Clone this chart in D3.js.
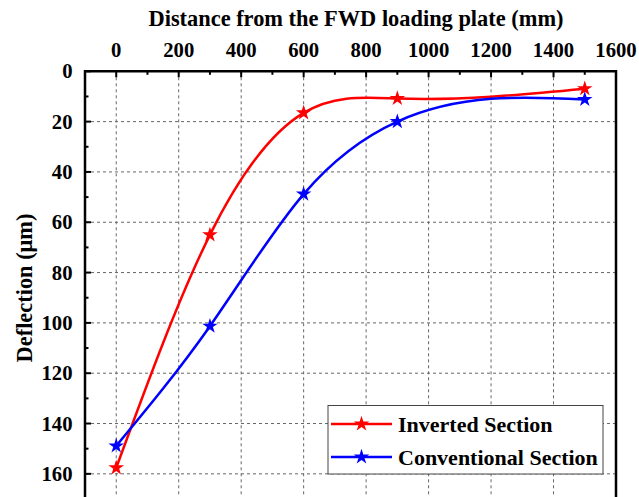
<!DOCTYPE html>
<html>
<head>
<meta charset="utf-8">
<script src="https://cdn.jsdelivr.net/npm/d3@7"></script>
<style>
  html, body { margin: 0; padding: 0; background: #fff; }
  svg { display: block; }
  text { font-family: "Liberation Serif", "Times New Roman", serif; font-weight: bold; fill: #000; }
</style>
</head>
<body>
<svg id="chart" width="639" height="497"></svg>
<script>
// Distance from the loading plate (mm) for each geophone
const distances = [0, 300, 600, 900, 1500];
// Deflections (µm) for each section
const invertedSection = [157.6, 65, 16.5, 10.8, 6.9];
const conventionalSection = [148.9, 101.3, 48.8, 20, 11.2];
const seriesNames = ["Inverted Section", "Conventional Section"];
const seriesColors = ["#ff0000", "#0000ff"];
const xTicks = [0, 200, 400, 600, 800, 1000, 1200, 1400, 1600];
const yTicks = [0, 20, 40, 60, 80, 100, 120, 140, 160];

// Natural cubic spline with y as a function of x, emitted as exact Bézier segments
function SplineX(context) { this._context = context; }
SplineX.prototype = {
  areaStart() { this._line = 0; },
  areaEnd() { this._line = NaN; },
  lineStart() { this._xs = []; this._ys = []; },
  point(px, py) { this._xs.push(+px); this._ys.push(+py); },
  lineEnd() {
    const xs = this._xs, ys = this._ys, n = xs.length, ctx = this._context;
    if (!n) return;
    ctx.moveTo(xs[0], ys[0]);
    if (n === 1) return;
    const h = [], M = new Array(n).fill(0);
    for (let i = 0; i < n - 1; i++) h.push(xs[i + 1] - xs[i]);
    if (n > 2) {
      // tridiagonal system for the second derivatives (natural ends)
      const a = [], b = [], c = [], r = [];
      for (let i = 1; i < n - 1; i++) {
        a.push(h[i - 1]); b.push(2 * (h[i - 1] + h[i])); c.push(h[i]);
        r.push(6 * ((ys[i + 1] - ys[i]) / h[i] - (ys[i] - ys[i - 1]) / h[i - 1]));
      }
      const m = b.length;
      for (let i = 1; i < m; i++) {
        const w = a[i] / b[i - 1];
        b[i] -= w * c[i - 1]; r[i] -= w * r[i - 1];
      }
      const sol = new Array(m);
      sol[m - 1] = r[m - 1] / b[m - 1];
      for (let i = m - 2; i >= 0; i--) sol[i] = (r[i] - c[i] * sol[i + 1]) / b[i];
      for (let i = 0; i < m; i++) M[i + 1] = sol[i];
    }
    for (let i = 0; i < n - 1; i++) {
      const hi = h[i], dy = (ys[i + 1] - ys[i]) / hi;
      const s0 = dy - hi * (2 * M[i] + M[i + 1]) / 6;
      const s1 = dy + hi * (M[i] + 2 * M[i + 1]) / 6;
      ctx.bezierCurveTo(xs[i] + hi / 3, ys[i] + s0 * hi / 3,
                        xs[i + 1] - hi / 3, ys[i + 1] - s1 * hi / 3,
                        xs[i + 1], ys[i + 1]);
    }
  }
};
const curveSplineX = ctx => new SplineX(ctx);

const svg = d3.select("#chart");
const plotLeft = 85, plotRight = 616, plotTop = 71.3, plotBottom = 499;

const x = d3.scaleLinear().domain([-100, 1600]).range([plotLeft, plotRight]);
const y = d3.scaleLinear().domain([0, 170]).range([plotTop, plotBottom]);

// grid lines
const grid = svg.append("g").attr("stroke", "#666").attr("stroke-width", 1)
  .attr("stroke-dasharray", "3,3");
grid.selectAll("line.vx").data(xTicks.filter(d => d < 1600)).join("line")
  .attr("x1", d => x(d)).attr("x2", d => x(d)).attr("y1", plotTop).attr("y2", plotBottom);
grid.selectAll("line.hy").data(yTicks.filter(d => d > 0)).join("line")
  .attr("y1", d => y(d)).attr("y2", d => y(d)).attr("x1", plotLeft).attr("x2", plotRight);

// top axis (inward ticks)
const xMinor = d3.range(-100, 1601, 100).filter(d => d % 200 !== 0);
const ax = svg.append("g");
ax.selectAll("line.maj").data(xTicks).join("line")
  .attr("x1", d => x(d)).attr("x2", d => x(d)).attr("y1", plotTop).attr("y2", plotTop + 6)
  .attr("stroke", "#000").attr("stroke-width", 2);
ax.selectAll("line.min").data(xMinor).join("line")
  .attr("x1", d => x(d)).attr("x2", d => x(d)).attr("y1", plotTop).attr("y2", plotTop + 3.5)
  .attr("stroke", "#000").attr("stroke-width", 2);
ax.selectAll("text").data(xTicks).join("text")
  .attr("x", d => x(d)).attr("y", 57).attr("text-anchor", "middle")
  .attr("font-size", 20.7).text(d => d);

// left axis (inward ticks)
const yMinor = d3.range(10, 171, 20);
const ay = svg.append("g");
ay.selectAll("line.maj").data(yTicks).join("line")
  .attr("x1", plotLeft).attr("x2", plotLeft + 6).attr("y1", d => y(d)).attr("y2", d => y(d))
  .attr("stroke", "#000").attr("stroke-width", 2);
ay.selectAll("line.min").data(yMinor).join("line")
  .attr("x1", plotLeft).attr("x2", plotLeft + 3.5).attr("y1", d => y(d)).attr("y2", d => y(d))
  .attr("stroke", "#000").attr("stroke-width", 2);
ay.selectAll("text").data(yTicks).join("text")
  .attr("x", 72.5).attr("y", d => y(d) + 7).attr("text-anchor", "end")
  .attr("font-size", 20.7).text(d => d);

// frame
svg.append("path")
  .attr("d", `M${plotLeft},${plotBottom + 5}V${plotTop}H${plotRight}V${plotBottom + 5}`)
  .attr("fill", "none").attr("stroke", "#000").attr("stroke-width", 2.5);

// axis titles
svg.append("text").attr("x", 356).attr("y", 26).attr("text-anchor", "middle")
  .attr("font-size", 22.4).text("Distance from the FWD loading plate (mm)");
svg.append("text").attr("transform", "translate(32,288) rotate(-90)")
  .attr("text-anchor", "middle").attr("font-size", 22.4).text("Deflection (μm)");

// series
const series = [invertedSection, conventionalSection];
const line = d3.line().x(d => x(d[0])).y(d => y(d[1])).curve(curveSplineX);
const star = d3.symbol().type(d3.symbolStar).size(75);

series.forEach((vals, i) => {
  const pts = distances.map((d, j) => [d, vals[j]]);
  svg.append("path").datum(pts).attr("d", line)
    .attr("fill", "none").attr("stroke", seriesColors[i]).attr("stroke-width", 2.5);
  svg.append("g").selectAll("path").data(pts).join("path")
    .attr("transform", d => `translate(${x(d[0])},${y(d[1])})`)
    .attr("d", star).attr("fill", seriesColors[i]);
});

// legend
const lg = svg.append("g");
lg.append("rect").attr("x", 328).attr("y", 405.5).attr("width", 275).attr("height", 68.5)
  .attr("fill", "#fff").attr("stroke", "#444").attr("stroke-width", 1);
seriesNames.forEach((name, i) => {
  const cy = 424 + i * 33;
  lg.append("line").attr("x1", 331).attr("x2", 392).attr("y1", cy).attr("y2", cy)
    .attr("stroke", seriesColors[i]).attr("stroke-width", 2.5);
  lg.append("path").attr("transform", `translate(361.5,${cy})`).attr("d", star)
    .attr("fill", seriesColors[i]);
  lg.append("text").attr("x", 398).attr("y", cy + 7.5).attr("font-size", 22).text(name);
});
</script>
</body>
</html>
